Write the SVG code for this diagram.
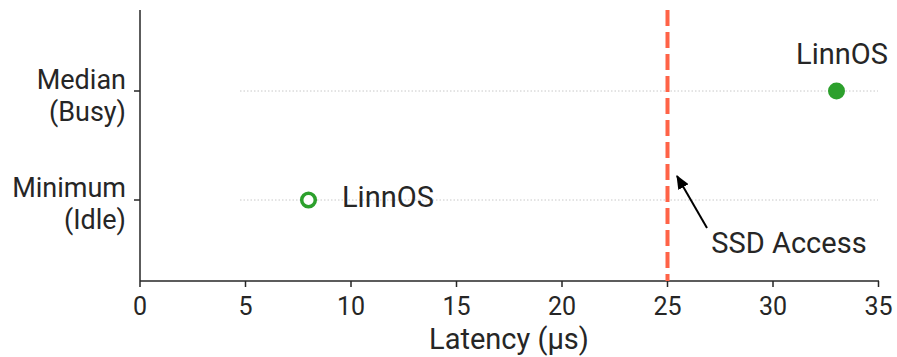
<svg xmlns="http://www.w3.org/2000/svg" width="897" height="357" viewBox="0 0 897 357">
<style>
text{font-family:Roboto,"Liberation Sans",sans-serif;fill:#262626}
.lbl{font-size:29px}
.ylab{font-size:27px;text-anchor:end}
.tick{font-size:25px;text-anchor:middle}
.ax{stroke:#262626;stroke-width:1.5;fill:none}
.grid{stroke:#c8c8c8;stroke-width:1;stroke-dasharray:1.5 2;fill:none}
</style>
<defs>
<marker id="ah" viewBox="0 0 12 10" refX="11" refY="5" markerWidth="7" markerHeight="6" markerUnits="strokeWidth" orient="auto"><path d="M0,0 L12,5 L0,10 z" fill="#000"/></marker>
</defs>
<g id="axes">
<line class="ax" x1="140" y1="10" x2="140" y2="281"/>
<line class="ax" x1="140" y1="281" x2="879" y2="281"/>
<path class="ax" d="M134,91H140M134,200H140M140,281V287M245.5,281V287M351,281V287M456.5,281V287M562,281V287M667.5,281V287M773,281V287M878.5,281V287"/>
<text class="tick" x="140" y="315">0</text>
<text class="tick" x="245.5" y="315">5</text>
<text class="tick" x="351" y="315">10</text>
<text class="tick" x="456.5" y="315">15</text>
<text class="tick" x="562" y="315">20</text>
<text class="tick" x="667.5" y="315">25</text>
<text class="tick" x="773" y="315">30</text>
<text class="tick" x="878.5" y="315">35</text>
<text class="lbl" x="509" y="349" text-anchor="middle">Latency (µs)</text>
<text class="ylab" x="126" y="89">Median</text>
<text class="ylab" x="126" y="121">(Busy)</text>
<text class="ylab" x="126" y="197">Minimum</text>
<text class="ylab" x="126" y="229">(Idle)</text>
</g>
<g id="gridlines">
<line class="grid" x1="240" y1="91" x2="878" y2="91"/>
<line class="grid" x1="240" y1="200" x2="878" y2="200"/>
</g>
<g id="ssd-line">
<line x1="667.5" y1="10" x2="667.5" y2="281" stroke="#ff6347" stroke-width="4" stroke-dasharray="16 6"/>
</g>
<g id="busy-point">
<circle cx="836.5" cy="91" r="8.5" fill="#2ca02c"/>
<text class="lbl" x="842" y="64" text-anchor="middle">LinnOS</text>
</g>
<g id="idle-point">
<circle cx="308.5" cy="200" r="6.8" fill="#fff" stroke="#2ca02c" stroke-width="3.5"/>
<text class="lbl" x="342" y="207">LinnOS</text>
</g>
<g id="connectors">
<line x1="707" y1="228" x2="677" y2="176" stroke="#000" stroke-width="2" marker-end="url(#ah)"/>
</g>
<g id="annotation">
<text class="lbl" x="789" y="253" text-anchor="middle">SSD Access</text>
</g>
</svg>
